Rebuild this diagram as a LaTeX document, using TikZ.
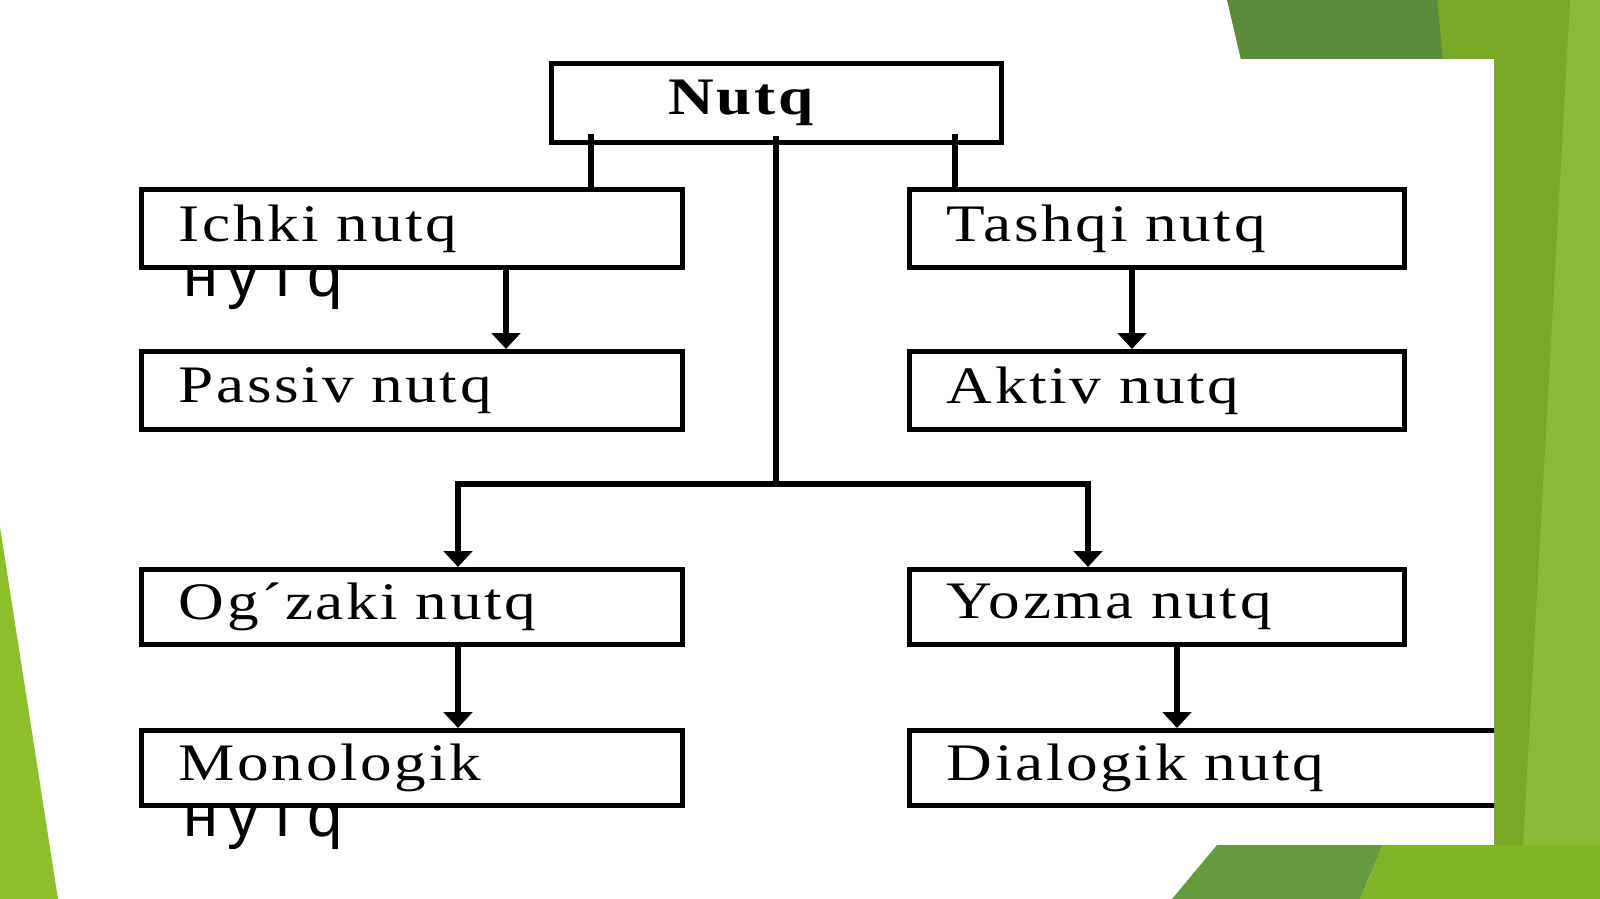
\documentclass[tikz,border=0pt]{standalone}
\usepackage{fontspec}
\setmainfont{Liberation Serif}[FakeStretch=1.2, LetterSpace=5]
\newfontfamily\cyrfont{Liberation Sans}[LetterSpace=15]
\usetikzlibrary{arrows.meta}
\definecolor{slideDark}{RGB}{93,139,60}
\definecolor{slideMid}{RGB}{120,168,38}
\definecolor{slideLight}{RGB}{140,184,55}
\definecolor{slideLeft}{RGB}{141,190,45}
\definecolor{slideBot}{RGB}{100,155,60}
\definecolor{slideLime}{RGB}{130,180,40}

\begin{document}
\begin{tikzpicture}[x=0.02cm, y=-0.02cm,
    box/.style={draw, rectangle, line width=2.7pt, fill=white, anchor=north west,
      inner xsep=0.75cm, inner ysep=0pt, align=left, font=\fontsize{30}{34}\selectfont},
    leftbox/.style={box, text width=9.32cm, minimum height=#1},
    rightbox/.style={box, text width=8.4cm, minimum height=#1},
    hint/.style={anchor=base west, inner sep=0pt, font=\cyrfont\fontsize{36}{40}\selectfont},
    link/.style={line width=3.2pt},
    arr/.style={link, -{Triangle[width=16pt, length=9pt]}}]
  \useasboundingbox (0,0) rectangle (1600,899);

  % slide background
  \fill[white] (0,0) rectangle (1600,899);
  \fill[slideLeft] (0,527) -- (58,899) -- (0,899) -- cycle;
  \fill[slideLight] (1430,0) rectangle (1600,899);
  \fill[slideMid] (1437,0) -- (1570,0) -- (1520,899) -- (1440,899) -- cycle;
  \fill[slideDark] (1227,0) -- (1437,0) -- (1446,90) -- (1248,90) -- cycle;
  \fill[slideBot] (1217,845) -- (1383,845) -- (1360,899) -- (1172,899) -- cycle;
  \fill[slideLime] (1383,845) -- (1600,845) -- (1600,899) -- (1360,899) -- cycle;
  \fill[white] (60,59) rectangle (1494,845);

  \begin{scope}
    \clip (0,0) rectangle (1494,899);

    % half hidden labels
    \node[hint] (hintA) at (183,296) {нутq};
    \node[hint] (hintB) at (183,836) {нутq};

    \node[box, inner xsep=2.34cm, text width=4.32cm, minimum height=1.58cm] (nutq) at (549,61) {\textbf{Nutq}};

    \node[leftbox=1.56cm] (ichki) at (139,187) {Ichki nutq};
    \node[leftbox=1.56cm] (passiv) at (139,349) {Passiv nutq};
    \node[leftbox=1.5cm] (ogzaki) at (139,567) {Og´zaki nutq};
    \node[leftbox=1.5cm] (monologik) at (139,728) {Monologik};

    \node[rightbox=1.56cm] (tashqi) at (907,187) {Tashqi nutq};
    \node[rightbox=1.56cm] (aktiv) at (907,349) {Aktiv nutq};
    \node[rightbox=1.5cm] (yozma) at (907,567) {Yozma nutq};
    \node[box, text width=10.92cm, minimum height=1.5cm] (dialogik) at (907,728) {Dialogik nutq};

    \coordinate (stubL) at (591,134);
    \coordinate (stubR) at (955,134);
    \coordinate (stubC) at (776,136);
    \coordinate (split) at (776,484);
    \coordinate (bl) at (458,484);
    \coordinate (br) at (1088,484);

    \draw[link] (stubL) -- (stubL |- ichki.north);
    \draw[link] (stubR) -- (stubR |- tashqi.north);
    \draw[link] (stubC) -- (split);
    \draw[arr] (split) -| (bl |- ogzaki.north);
    \draw[arr] (split) -| (br |- yozma.north);

    \foreach \a/\b/\x in {ichki/passiv/506, tashqi/aktiv/1132, ogzaki/monologik/458, yozma/dialogik/1177}
      \draw[arr] (\a.south -| \x,0) -- (\b.north -| \x,0);
  \end{scope}
\end{tikzpicture}
\end{document}
